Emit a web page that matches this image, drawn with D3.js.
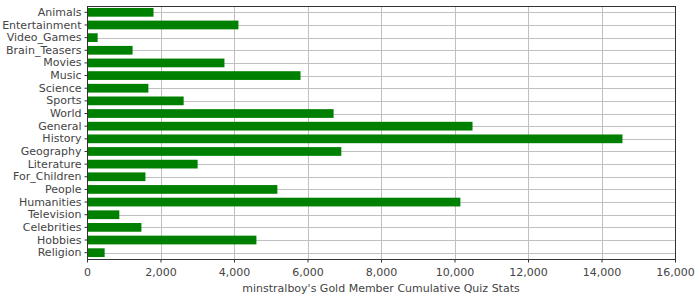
<!DOCTYPE html>
<html lang="en">
  <head>
    <meta charset="UTF-8" />
    <title>Quiz Stats</title>
    <style>
      body { margin: 0; background: #fff; }
      text { font-family: "DejaVu Sans", sans-serif; font-size: 11px; fill: #444; }
    </style>
  </head>
  <body>
    <script src="https://cdn.jsdelivr.net/npm/d3@7/dist/d3.min.js"></script>
    <script>
    // categories top to bottom
    var categories = ["Animals", "Entertainment", "Video_Games", "Brain_Teasers", "Movies",
      "Music", "Science", "Sports", "World", "General", "History", "Geography",
      "Literature", "For_Children", "People", "Humanities", "Television",
      "Celebrities", "Hobbies", "Religion"];
    var points = [1810, 4120, 290, 1240, 3740, 5810, 1670, 2630, 6710, 10490,
      14570, 6920, 3010, 1590, 5180, 10160, 880, 1480, 4610, 480];
    var xTicks = [0, 2000, 4000, 6000, 8000, 10000, 12000, 14000, 16000];
    var axisTitle = "minstralboy's Gold Member Cumulative Quiz Stats";

    var width = 700, height = 300;
    var margin = { top: 6, right: 25, bottom: 41, left: 87 };
    var plotW = width - margin.left - margin.right;
    var plotH = height - margin.top - margin.bottom;

    var svg = d3.select("body").append("svg")
      .attr("width", width)
      .attr("height", height);

    var xScale = d3.scaleLinear().domain([0, 16000]).range([0, plotW]);
    var yScale = d3.scaleBand().domain(categories).range([0, plotH])
      .paddingInner(0.31).paddingOuter(0.155);

    var g = svg.append("g")
      .attr("transform", "translate(" + margin.left + "," + margin.top + ")");

    // gridlines
    g.selectAll(".vgrid").data(xTicks.slice(1, -1)).enter().append("line")
      .attr("x1", function(d) { return Math.round(xScale(d)) + 0.5; })
      .attr("x2", function(d) { return Math.round(xScale(d)) + 0.5; })
      .attr("y1", 0).attr("y2", plotH)
      .style("stroke", "#c0c0c0");
    g.selectAll(".hgrid").data(categories).enter().append("line")
      .attr("x1", 0).attr("x2", plotW)
      .attr("y1", function(d) { return Math.round(yScale(d) + yScale.bandwidth() / 2) + 0.5; })
      .attr("y2", function(d) { return Math.round(yScale(d) + yScale.bandwidth() / 2) + 0.5; })
      .style("stroke", "#c0c0c0");

    // bars
    g.selectAll(".bar").data(categories).enter().append("rect")
      .attr("x", 0)
      .attr("y", function(d) { return yScale(d); })
      .attr("width", function(d, i) { return xScale(points[i]); })
      .attr("height", yScale.bandwidth())
      .style("fill", "#008000");

    // plot frame
    g.append("rect")
      .attr("x", 0.5).attr("y", 0.5)
      .attr("width", plotW).attr("height", plotH)
      .style("fill", "none").style("stroke", "#333");

    // y axis
    var yAxis = d3.axisLeft(yScale).tickSize(3).tickPadding(3);
    var ya = g.append("g").attr("transform", "translate(0.5,0)").call(yAxis);
    ya.select(".domain").remove();
    ya.selectAll("line").style("stroke", "#333");

    // x axis
    var xAxis = d3.axisBottom(xScale).tickValues(xTicks).tickSize(3).tickPadding(6)
      .tickFormat(d3.format(","));
    var xa = g.append("g").attr("transform", "translate(0," + (plotH + 0.5) + ")").call(xAxis);
    xa.select(".domain").remove();
    xa.selectAll("line").style("stroke", "#333");
    xa.selectAll("text").style("font-size", "11px");
    ya.selectAll("text").style("font-size", "11px");

    svg.append("text")
      .attr("x", margin.left + plotW / 2)
      .attr("y", height - 8)
      .attr("text-anchor", "middle")
      .text(axisTitle);
    </script>
  </body>
</html>
